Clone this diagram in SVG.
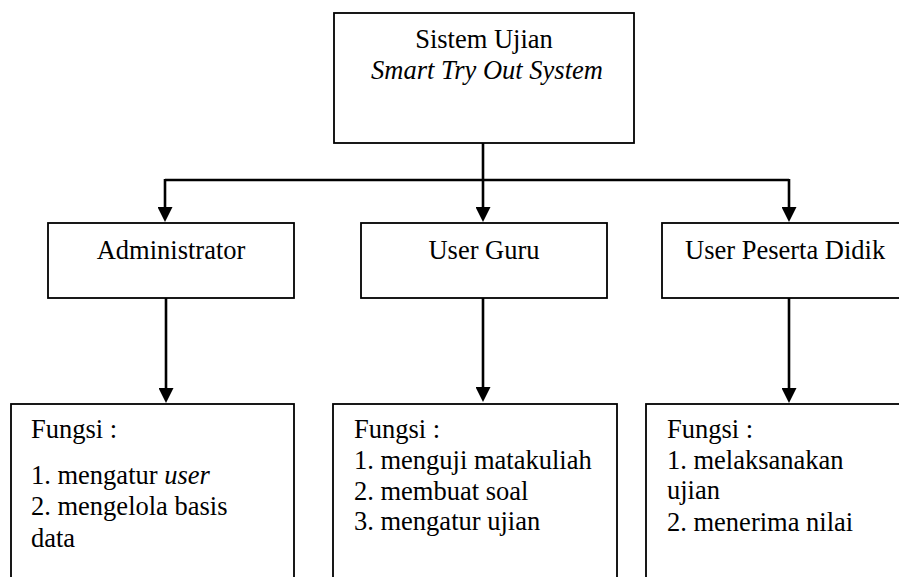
<svg xmlns="http://www.w3.org/2000/svg" width="899" height="577" viewBox="0 0 899 577">
  <style>
    .box { fill: #ffffff; stroke: #000000; stroke-width: 1.8; }
    .t { font-family: "Liberation Serif", "Times New Roman", serif; font-size: 26.5px; fill: #000000; }
    .c { text-anchor: middle; }
    .i { font-style: italic; }
    .conn { fill: none; stroke: #000000; stroke-width: 2.6; }
  </style>
  <defs>
    <marker id="arr" markerUnits="userSpaceOnUse" markerWidth="15" markerHeight="15" refX="2" refY="7.5" orient="auto">
      <path d="M0,0 L15,7.5 L0,15 z" fill="#000000"/>
    </marker>
  </defs>
  <rect width="899" height="577" fill="#ffffff"/>

  <g id="node-sistem">
    <rect class="box" x="334" y="13" width="300" height="130"/>
    <text class="t c" x="484" y="48">Sistem Ujian</text>
    <text class="t c i" x="487" y="79">Smart Try Out System</text>
  </g>

  <g id="node-admin">
    <rect class="box" x="48" y="223" width="246" height="75"/>
    <text class="t c" x="171" y="259">Administrator</text>
  </g>

  <g id="node-guru">
    <rect class="box" x="361" y="223" width="246" height="75"/>
    <text class="t c" x="484" y="259">User Guru</text>
  </g>

  <g id="node-peserta">
    <rect class="box" x="662" y="223" width="260" height="75"/>
    <text class="t" x="685" y="259">User Peserta Didik</text>
  </g>

  <g id="node-fungsi-admin">
    <rect class="box" x="11" y="404" width="283" height="200"/>
    <text class="t" x="31" y="438">Fungsi :</text>
    <text class="t" x="31" y="484">1. mengatur <tspan class="i">user</tspan></text>
    <text class="t" x="31" y="515">2. mengelola basis</text>
    <text class="t" x="31" y="547">data</text>
  </g>

  <g id="node-fungsi-guru">
    <rect class="box" x="333" y="404" width="284" height="200"/>
    <text class="t" x="354" y="438">Fungsi :</text>
    <text class="t" x="354" y="469">1. menguji matakuliah</text>
    <text class="t" x="354" y="500">2. membuat soal</text>
    <text class="t" x="354" y="530">3. mengatur ujian</text>
  </g>

  <g id="node-fungsi-peserta">
    <rect class="box" x="646" y="404" width="280" height="200"/>
    <text class="t" x="667" y="438">Fungsi :</text>
    <text class="t" x="667" y="469">1. melaksanakan</text>
    <text class="t" x="667" y="499">ujian</text>
    <text class="t" x="667" y="531">2. menerima nilai</text>
  </g>

  <g id="connectors">
    <line class="conn" x1="165" y1="180" x2="789" y2="180"/>
    <line class="conn" x1="483" y1="143" x2="483" y2="209" marker-end="url(#arr)"/>
    <line class="conn" x1="165" y1="179" x2="165" y2="209" marker-end="url(#arr)"/>
    <line class="conn" x1="789" y1="179" x2="789" y2="209" marker-end="url(#arr)"/>
    <line class="conn" x1="166" y1="298" x2="166" y2="390" marker-end="url(#arr)"/>
    <line class="conn" x1="483" y1="298" x2="483" y2="389" marker-end="url(#arr)"/>
    <line class="conn" x1="789" y1="298" x2="789" y2="390" marker-end="url(#arr)"/>
  </g>
</svg>
